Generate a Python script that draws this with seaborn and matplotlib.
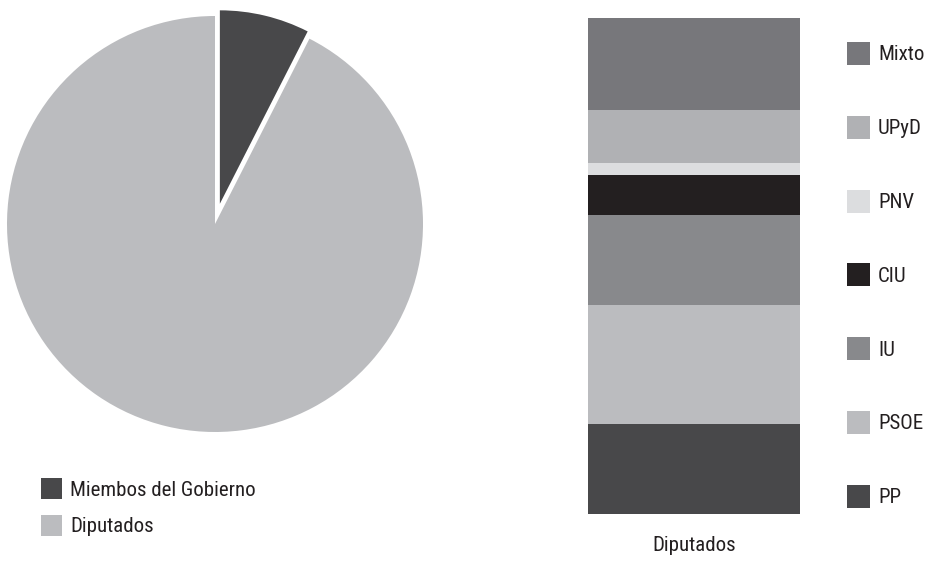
import matplotlib
matplotlib.use("Agg")
import matplotlib.pyplot as plt
from matplotlib import font_manager
import seaborn as sns
import pandas as pd
import numpy as np
from matplotlib.patches import Patch

# ---- data ----
pie_labels = ["Miembos del Gobierno", "Diputados"]
pie_values = [7.5, 92.5]
pie_colors = ["#48484a", "#bbbcbf"]

parties = ["PP", "PSOE", "IU", "CIU", "PNV", "UPyD", "Mixto"]
party_values = [90, 119, 90, 40, 12, 53, 92]
party_colors = ["#48484a", "#bbbcbf", "#88898c", "#231f20", "#dcdddf", "#b0b1b4", "#77777b"]
bar_category = "Diputados"

sns.set_theme(style="white")

# pick the narrowest available font
names = {f.name for f in font_manager.fontManager.ttflist}
if "Liberation Sans Narrow" in names:
    family, fs = "Liberation Sans Narrow", 15
elif "Roboto Condensed" in names:
    family, fs = "Roboto Condensed", 15
elif "Roboto" in names:
    family, fs = "Roboto", 12.5
else:
    family, fs = "DejaVu Sans", 11.5
plt.rcParams['font.family'] = [family, 'DejaVu Sans']
TXT = '#231f20'

W, H = 927, 562
fig = plt.figure(figsize=(W / 100, H / 100), dpi=100)
fs_px = fs * 100 / 72


def hh(px):
    return (px / fs_px - 0.245) / 0.65


# ---- pie ----
ax1 = fig.add_axes([7 / W, (H - 432) / H, 416 / W, 416 / H])
wedges, _ = ax1.pie(pie_values, colors=pie_colors, startangle=90, counterclock=False,
                    explode=(0.1, 0), radius=1, wedgeprops=dict(linewidth=0))
wedges[0].set_radius(0.93)
for w in wedges:
    w.set_clip_on(False)
ax1.set_xlim(-1, 1)
ax1.set_ylim(-1, 1)
ax1.set_aspect('equal')
ax1.axis('off')

pie_handles = [Patch(facecolor=c, edgecolor='none') for c in pie_colors]
fig.legend(pie_handles, pie_labels, loc='upper left', bbox_to_anchor=(41 / W, 1 - 478 / H),
           frameon=False, borderpad=0, borderaxespad=0, fontsize=fs, labelcolor=TXT,
           handlelength=21 / fs_px, handleheight=hh(21), handletextpad=8 / fs_px,
           labelspacing=15 / fs_px)

# ---- stacked bar ----
ax2 = fig.add_axes([588 / W, (H - 514) / H, 212 / W, 496 / H])
df = pd.DataFrame({"cat": [bar_category] * len(parties), "party": parties,
                   "value": party_values})
df["cum"] = df["value"].cumsum()
order = parties[::-1]
pal = dict(zip(parties, party_colors))
sns.barplot(data=df, x="cat", y="cum", hue="party", hue_order=order, palette=pal,
            dodge=False, width=1, saturation=1, legend=False, ax=ax2, linewidth=0)
ax2.set_xlim(-0.5, 0.5)
ax2.set_ylim(0, df["value"].sum())
ax2.set_ylabel("")
ax2.set_xlabel("")
ax2.set_yticks([])
ax2.tick_params(axis='x', length=0, pad=16, labelsize=fs, labelcolor=TXT)
for s in ax2.spines.values():
    s.set_visible(False)

bar_handles = [Patch(facecolor=pal[p], edgecolor='none') for p in order]
fig.legend(bar_handles, order, loc='upper left', bbox_to_anchor=(847 / W, 1 - 42 / H),
           frameon=False, borderpad=0, borderaxespad=0, fontsize=fs, labelcolor=TXT,
           handlelength=23 / fs_px, handleheight=hh(23), handletextpad=8 / fs_px,
           labelspacing=50.8 / fs_px)

fig.savefig("out.png", dpi=100)
